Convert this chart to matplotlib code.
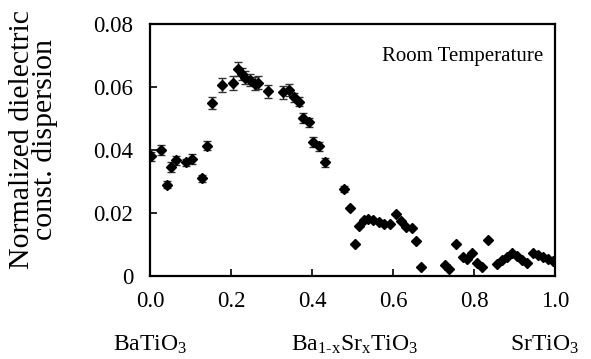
import numpy as np
import matplotlib
matplotlib.use('Agg')
import matplotlib.pyplot as plt

plt.rcParams['font.family'] = 'Liberation Serif'
plt.rcParams['mathtext.fontset'] = 'custom'
plt.rcParams['mathtext.rm'] = 'Liberation Serif'
plt.rcParams['mathtext.it'] = 'Liberation Serif:italic'

# Sr fraction x and normalized dispersion
x = [0.002, 0.027, 0.041, 0.052, 0.064, 0.090, 0.103, 0.128, 0.140, 0.152,
     0.179, 0.204, 0.217, 0.226, 0.235, 0.247, 0.259, 0.267, 0.292, 0.329,
     0.343, 0.356, 0.368, 0.379, 0.393, 0.403, 0.417, 0.432, 0.479, 0.493,
     0.505, 0.517, 0.528, 0.539, 0.551, 0.565, 0.579, 0.593, 0.607, 0.619,
     0.632, 0.646, 0.657, 0.669, 0.728, 0.738, 0.756, 0.772, 0.783, 0.796,
     0.807, 0.819, 0.834, 0.856, 0.868, 0.881, 0.893, 0.906, 0.918, 0.932,
     0.945, 0.957, 0.970, 0.983, 0.996]
y = [0.0380, 0.0400, 0.0290, 0.0346, 0.0367, 0.0361, 0.0372, 0.0310, 0.0414, 0.0549,
     0.0607, 0.0612, 0.0657, 0.0641, 0.0630, 0.0622, 0.0611, 0.0614, 0.0586, 0.0583,
     0.0590, 0.0567, 0.0554, 0.0502, 0.0488, 0.0425, 0.0412, 0.0361, 0.0277, 0.0217,
     0.0102, 0.0158, 0.0177, 0.0182, 0.0177, 0.0172, 0.0164, 0.0164, 0.0198, 0.0174,
     0.0154, 0.0151, 0.0112, 0.0027, 0.0035, 0.0022, 0.0102, 0.0061, 0.0054, 0.0072,
     0.0042, 0.0029, 0.0114, 0.0038, 0.0051, 0.0061, 0.0074, 0.0063, 0.0051, 0.0040,
     0.0072, 0.0066, 0.0059, 0.0053, 0.0047]
yerr = [0.0015, 0.0015, 0.0012, 0.0015, 0.0015, 0.0012, 0.0015, 0.0010, 0.0015, 0.0020,
        0.0022, 0.0022, 0.0022, 0.0020, 0.0020, 0.0020, 0.0020, 0.0020, 0.0020, 0.0020,
        0.0020, 0.0015, 0.0015, 0.0015, 0.0015, 0.0015, 0.0015, 0.0015, 0.0010, 0,
        0, 0, 0, 0, 0, 0, 0, 0, 0, 0,
        0, 0, 0, 0, 0, 0, 0, 0, 0, 0,
        0, 0, 0, 0, 0, 0, 0, 0, 0, 0,
        0, 0, 0, 0, 0]

xticks = [0.0, 0.2, 0.4, 0.6, 0.8, 1.0]
xticklabels = ['0.0', '0.2', '0.4', '0.6', '0.8', '1.0']
yticks = [0, 0.02, 0.04, 0.06, 0.08]
yticklabels = ['0', '0.02', '0.04', '0.06', '0.08']

fig = plt.figure(figsize=(5.91, 3.59), dpi=100)
ax = fig.add_axes([0.2538, 0.2312, 0.6853, 0.7019])

ax.errorbar(x, y, yerr=yerr, fmt='D', color='black', ms=5.2,
            ecolor='#333333', elinewidth=1.0, capsize=2.8, capthick=1.0)

ax.set_xlim(0, 1.0)
ax.set_ylim(0, 0.08)
ax.set_xticks(xticks)
ax.set_xticklabels(xticklabels)
ax.set_yticks(yticks)
ax.set_yticklabels(yticklabels)
ax.tick_params(direction='in', length=5, width=1.2, labelsize=16.5)
ax.tick_params(axis='x', pad=11)
ax.tick_params(axis='y', pad=12)
for s in ax.spines.values():
    s.set_linewidth(1.6)

ax.text(0.97, 0.873, 'Room Temperature', transform=ax.transAxes,
        ha='right', va='center', fontsize=15)

ax.set_ylabel('Normalized dielectric\nconst. dispersion', fontsize=21.5,
              linespacing=0.85)
ax.yaxis.set_label_coords(-0.228, 0.54)

ax.text(0.0, -0.275, r'BaTiO$_3$', transform=ax.transAxes,
        ha='center', va='center', fontsize=17)
ax.text(0.505, -0.275, r'Ba$_{\mathrm{1\text{-}x}}$Sr$_\mathrm{x}$TiO$_3$',
        transform=ax.transAxes, ha='center', va='center', fontsize=17)
ax.text(0.975, -0.275, r'SrTiO$_3$', transform=ax.transAxes,
        ha='center', va='center', fontsize=17)

fig.savefig('out.png', dpi=100)
